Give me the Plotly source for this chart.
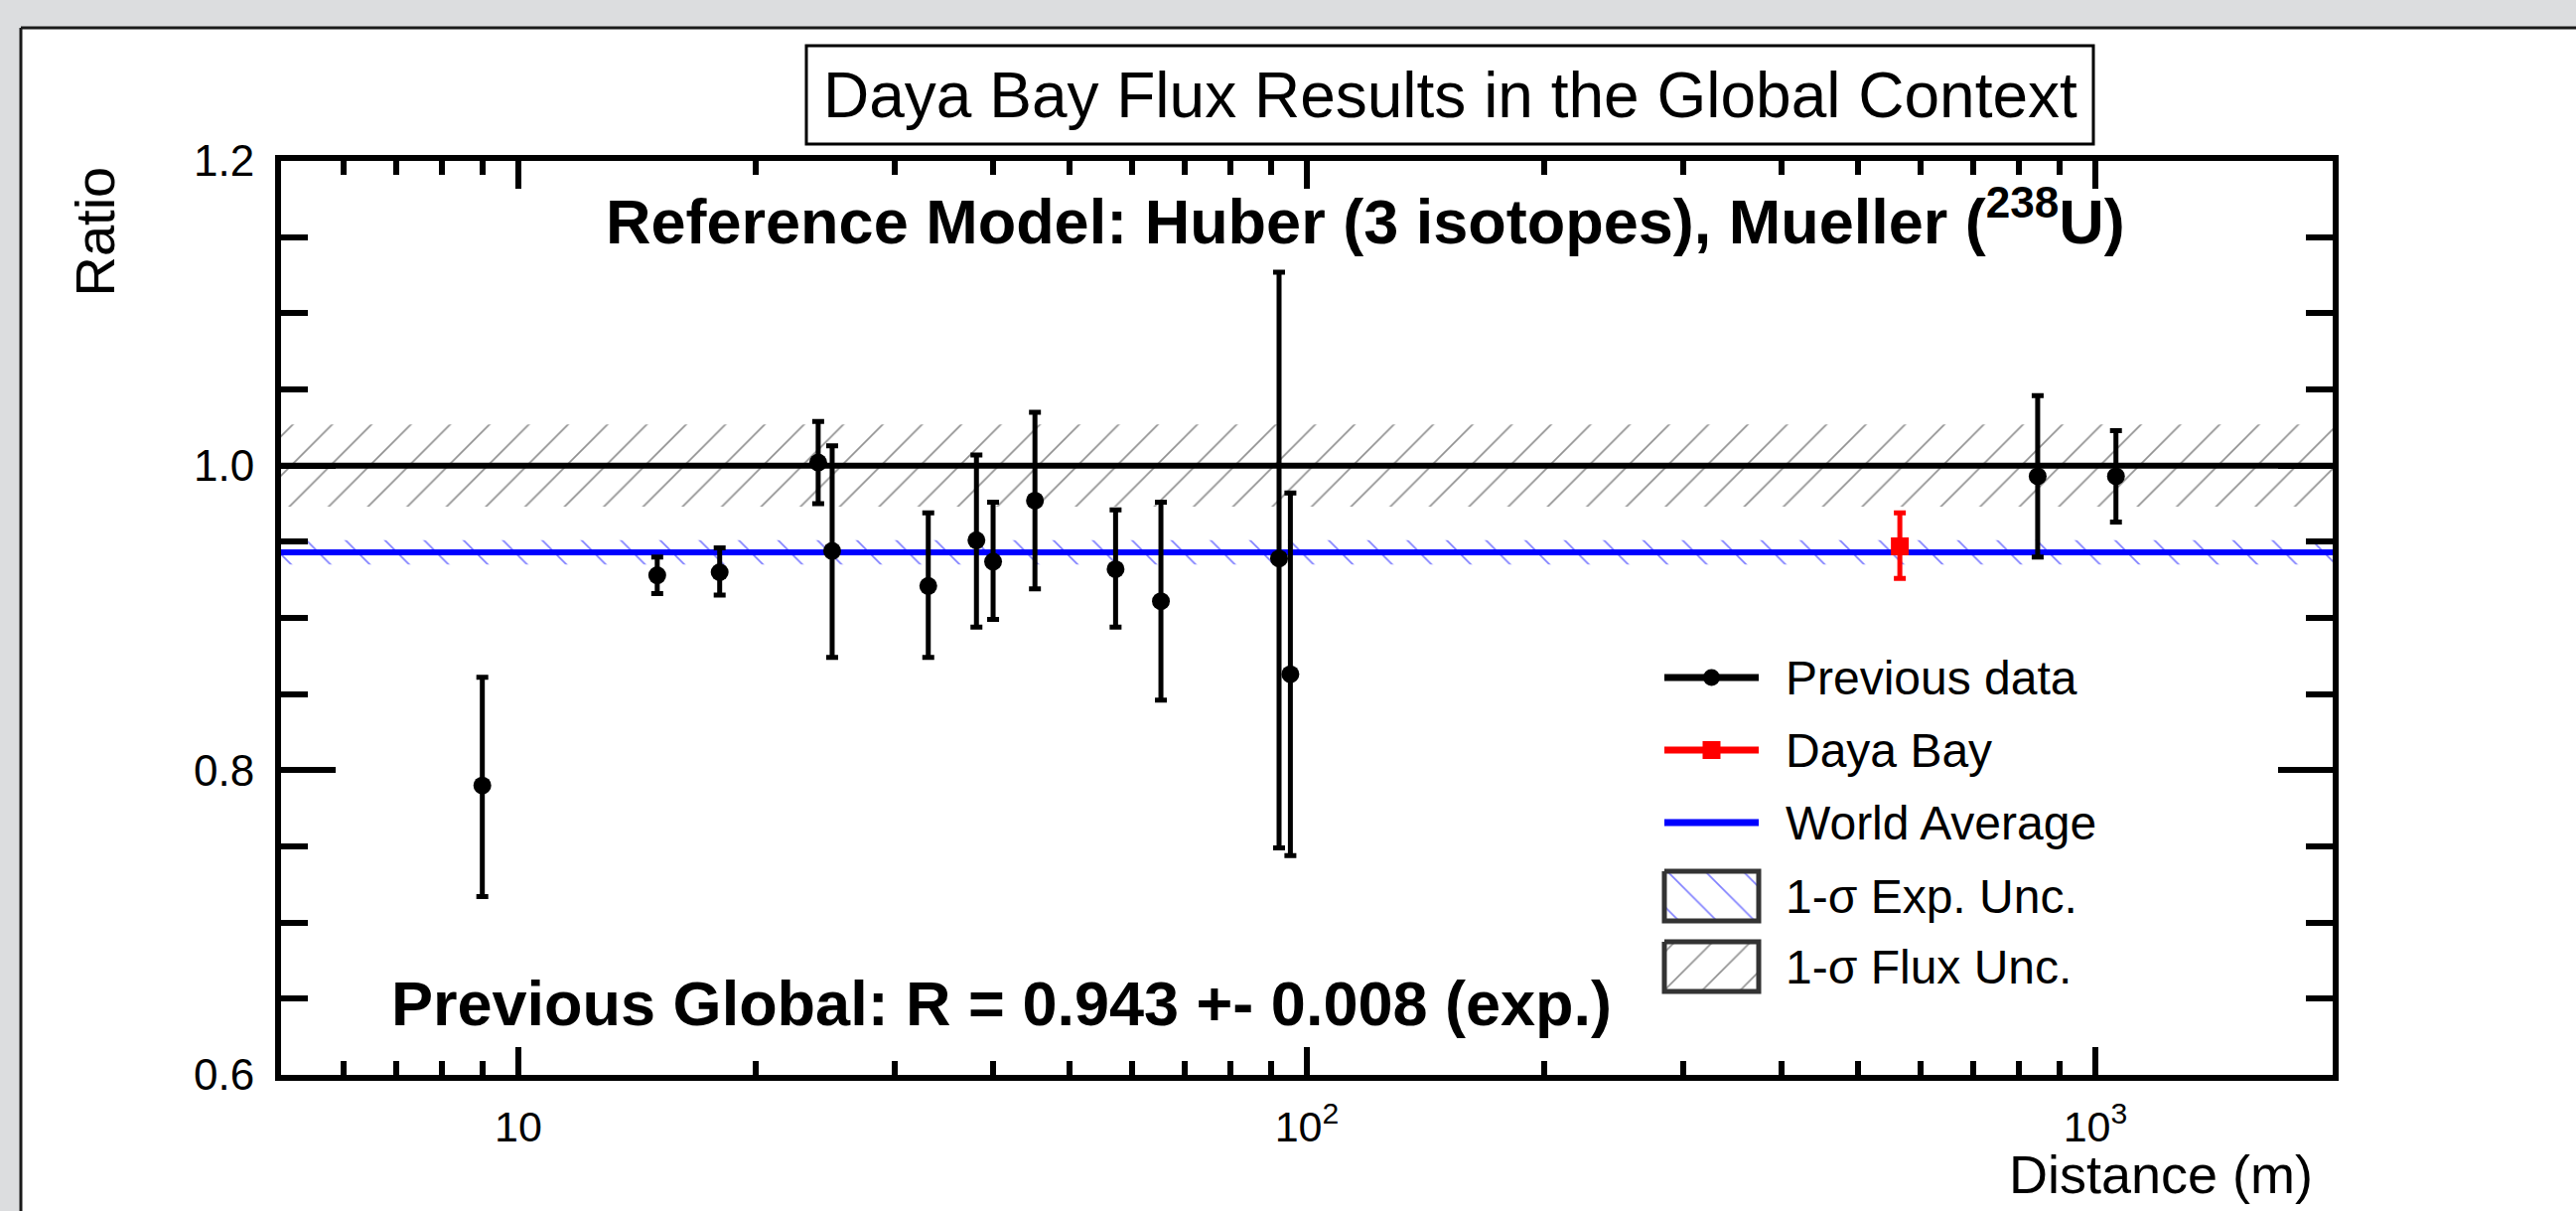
import math
import plotly.graph_objects as go

W, H = 2594, 1219
FONT = "Liberation Sans, Arial, Helvetica, sans-serif"

# ---------------- data ----------------
distance = [9.0, 15.0, 18.0, 24.0, 25.0, 33.1, 38.1, 40.0, 45.2, 57.2, 65.3, 92.2, 95.3, 845, 1062]
ratio = [0.790, 0.928, 0.930, 1.002, 0.944, 0.921, 0.951, 0.937, 0.977, 0.932, 0.911, 0.939, 0.863, 0.993, 0.993]
err_up = [0.071, 0.012, 0.016, 0.027, 0.069, 0.048, 0.056, 0.039, 0.058, 0.039, 0.065, 0.188, 0.119, 0.053, 0.030]
err_down = [0.073, 0.012, 0.015, 0.027, 0.070, 0.047, 0.057, 0.038, 0.058, 0.038, 0.065, 0.190, 0.119, 0.053, 0.030]

dyb_distance = [565]
dyb_ratio = [0.947]
dyb_err_up = [0.022]
dyb_err_down = [0.021]

world_avg = 0.943
world_avg_err = 0.008
flux_ref = 1.0
flux_unc = 0.027

x_range = [5, 2000]
y_range = [0.6, 1.2]
y_ticks = [0.6, 0.8, 1.0, 1.2]
x_ticks = [10, 100, 1000]
x_ticktext = ["10", "10<sup>2</sup>", "10<sup>3</sup>"]
x_minor = [5, 6, 7, 8, 9, 20, 30, 40, 50, 60, 70, 80, 90,
           200, 300, 400, 500, 600, 700, 800, 900, 2000]

legend_labels = ["Previous data", "Daya Bay", "World Average",
                 "1-\u03c3 Exp. Unc.", "1-\u03c3 Flux Unc."]

# ---------------- layout geometry (pixels) ----------------
PX_L, PX_R, PX_T, PX_B = 283, 2349, 162, 1082


def px(x):
    return x / W


def py(y):
    return 1 - y / H


fig = go.Figure()

band_x = [x_range[0], x_range[1], x_range[1], x_range[0], x_range[0]]

# flux uncertainty band (black hatch)
fig.add_trace(go.Scatter(
    x=band_x,
    y=[flux_ref - flux_unc, flux_ref - flux_unc, flux_ref + flux_unc, flux_ref + flux_unc, flux_ref - flux_unc],
    fill="toself", mode="lines", line=dict(width=0, color="rgba(0,0,0,0)"),
    fillcolor="rgba(0,0,0,0)",
    fillpattern=dict(shape="/", fgcolor="#222222", bgcolor="rgba(0,0,0,0)", size=28, solidity=0.06),
    showlegend=False, hoverinfo="skip"))

# experimental uncertainty band (blue hatch)
fig.add_trace(go.Scatter(
    x=band_x,
    y=[world_avg - world_avg_err, world_avg - world_avg_err, world_avg + world_avg_err,
       world_avg + world_avg_err, world_avg - world_avg_err],
    fill="toself", mode="lines", line=dict(width=0, color="rgba(0,0,0,0)"),
    fillcolor="rgba(0,0,0,0)",
    fillpattern=dict(shape="\\", fgcolor="#0000ff", bgcolor="rgba(0,0,0,0)", size=28, solidity=0.06),
    showlegend=False, hoverinfo="skip"))

# reference line at 1 and world average line
fig.add_trace(go.Scatter(x=x_range, y=[flux_ref, flux_ref], mode="lines",
                         line=dict(color="black", width=6), showlegend=False))
fig.add_trace(go.Scatter(x=x_range, y=[world_avg, world_avg], mode="lines",
                         line=dict(color="#0000ff", width=6), showlegend=False))

# previous data
fig.add_trace(go.Scatter(
    x=distance, y=ratio, mode="markers",
    marker=dict(symbol="circle", size=18, color="black"),
    error_y=dict(type="data", symmetric=False, array=err_up, arrayminus=err_down,
                 color="black", thickness=5, width=6),
    showlegend=False))

# Daya Bay
fig.add_trace(go.Scatter(
    x=dyb_distance, y=dyb_ratio, mode="markers",
    marker=dict(symbol="square", size=18, color="#ff0000"),
    error_y=dict(type="data", symmetric=False, array=dyb_err_up, arrayminus=dyb_err_down,
                 color="#ff0000", thickness=5, width=6),
    showlegend=False))

# ---------------- custom legend in a pixel overlay axis ----------------
LEG_X0, LEG_X1, LEG_TX = 1676, 1771, 1796
row_y = [682, 755, 828, 902, 973]
xm = (LEG_X0 + LEG_X1) / 2

fig.add_trace(go.Scatter(x=[LEG_X0, LEG_X1], y=[row_y[0]] * 2, mode="lines",
                         line=dict(color="black", width=7), xaxis="x2", yaxis="y2",
                         showlegend=False, hoverinfo="skip"))
fig.add_trace(go.Scatter(x=[xm], y=[row_y[0]], mode="markers",
                         marker=dict(symbol="circle", size=17, color="black"),
                         xaxis="x2", yaxis="y2", showlegend=False, hoverinfo="skip"))
fig.add_trace(go.Scatter(x=[LEG_X0, LEG_X1], y=[row_y[1]] * 2, mode="lines",
                         line=dict(color="#ff0000", width=7), xaxis="x2", yaxis="y2",
                         showlegend=False, hoverinfo="skip"))
fig.add_trace(go.Scatter(x=[xm], y=[row_y[1]], mode="markers",
                         marker=dict(symbol="square", size=18, color="#ff0000"),
                         xaxis="x2", yaxis="y2", showlegend=False, hoverinfo="skip"))
fig.add_trace(go.Scatter(x=[LEG_X0, LEG_X1], y=[row_y[2]] * 2, mode="lines",
                         line=dict(color="#0000ff", width=7), xaxis="x2", yaxis="y2",
                         showlegend=False, hoverinfo="skip"))
for yc, shp, col in [(row_y[3], "\\", "#0000ff"), (row_y[4], "/", "#222222")]:
    y0, y1 = yc - 25, yc + 25
    fig.add_trace(go.Scatter(
        x=[LEG_X0, LEG_X1, LEG_X1, LEG_X0, LEG_X0], y=[y0, y0, y1, y1, y0],
        fill="toself", mode="lines", line=dict(color="#333333", width=5),
        fillcolor="rgba(0,0,0,0)",
        fillpattern=dict(shape=shp, fgcolor=col, bgcolor="rgba(0,0,0,0)", size=27, solidity=0.06),
        xaxis="x2", yaxis="y2", showlegend=False, hoverinfo="skip"))

annotations = []
for lab, yc in zip(legend_labels, row_y):
    annotations.append(dict(x=px(LEG_TX), y=py(yc), xref="paper", yref="paper", text=lab,
                            showarrow=False, xanchor="left", yanchor="middle",
                            font=dict(family=FONT, size=48, color="black")))

annotations += [
    dict(x=px(1460), y=py(96), xref="paper", yref="paper",
         text="Daya Bay Flux Results in the Global Context",
         showarrow=False, xanchor="center", yanchor="middle",
         font=dict(family=FONT, size=64, color="black")),
    dict(x=px(1375), y=py(218), xref="paper", yref="paper",
         text="<b>Reference Model: Huber (3 isotopes), Mueller (<sup>238</sup>U)</b>",
         showarrow=False, xanchor="center", yanchor="middle",
         font=dict(family=FONT, size=63, color="black")),
    dict(x=px(392), y=py(1010), xref="paper", yref="paper",
         text="<b>Previous Global: R = 0.943 +- 0.008 (exp.)</b>",
         showarrow=False, xanchor="left", yanchor="middle",
         font=dict(family=FONT, size=63, color="black")),
    dict(x=px(95), y=py(166), xref="paper", yref="paper", text="Ratio", textangle=-90,
         showarrow=False, xanchor="center", yanchor="top",
         font=dict(family=FONT, size=56, color="black")),
    dict(x=px(2331), y=py(1182), xref="paper", yref="paper", text="Distance (m)",
         showarrow=False, xanchor="right", yanchor="middle",
         font=dict(family=FONT, size=54, color="black")),
]

shapes = [
    # white slide panel (fill only) and its top/left borders
    dict(type="rect", xref="paper", yref="paper", x0=px(21), y0=py(28), x1=1.0, y1=0.0,
         fillcolor="white", line=dict(width=0), layer="below"),
    dict(type="line", xref="paper", yref="paper", x0=px(21), y0=py(28), x1=1.0, y1=py(28),
         line=dict(color="#1a1a1a", width=3), layer="below"),
    dict(type="line", xref="paper", yref="paper", x0=px(21), y0=py(28), x1=px(21), y1=0.0,
         line=dict(color="#1a1a1a", width=3), layer="below"),
    # title box
    dict(type="rect", xref="paper", yref="paper", x0=px(812), y0=py(46), x1=px(2108), y1=py(145),
         fillcolor="white", line=dict(color="black", width=3), layer="below"),
]

fig.update_layout(
    width=W, height=H, autosize=False,
    margin=dict(l=0, r=0, t=0, b=0, pad=0, autoexpand=False),
    paper_bgcolor="#dcdddf", plot_bgcolor="rgba(0,0,0,0)",
    font=dict(family=FONT, color="black"),
    showlegend=False,
    annotations=annotations, shapes=shapes,
    xaxis=dict(
        type="log", range=[math.log10(x_range[0]), math.log10(x_range[1])],
        domain=[PX_L / W, PX_R / W], anchor="y", automargin=False,
        showline=True, linecolor="black", linewidth=6, mirror="ticks",
        showgrid=False, zeroline=False,
        ticks="inside", ticklen=28, tickwidth=6, tickcolor="black",
        tickmode="array", tickvals=x_ticks, ticktext=x_ticktext,
        tickfont=dict(family=FONT, size=43, color="black"),
        ticklabelstandoff=9,
        minor=dict(ticks="inside", ticklen=14, tickwidth=6, tickcolor="black",
                   tickmode="array", tickvals=x_minor, showgrid=False),
    ),
    yaxis=dict(
        range=y_range, domain=[1 - PX_B / H, 1 - PX_T / H], anchor="x", automargin=False,
        showline=True, linecolor="black", linewidth=6, mirror="ticks",
        showgrid=False, zeroline=False,
        ticks="inside", ticklen=55, tickwidth=6, tickcolor="black",
        tickmode="array", tickvals=y_ticks, tickformat=".1f",
        tickfont=dict(family=FONT, size=44, color="black"),
        ticklabelstandoff=12,
        minor=dict(ticks="inside", ticklen=27, tickwidth=6, tickcolor="black",
                   dtick=0.05, tick0=0.6, showgrid=False),
    ),
    xaxis2=dict(domain=[0, 1], range=[0, W], visible=False, anchor="y2", fixedrange=True,
                automargin=False),
    yaxis2=dict(domain=[0, 1], range=[H, 0], visible=False, anchor="x2", fixedrange=True,
                automargin=False),
)

fig.write_html(
    "out.html",
    config={"displayModeBar": False},
    post_script=("document.documentElement.style.overflow='hidden';"
                 "document.body.style.margin='0';document.body.style.overflow='hidden';"))
